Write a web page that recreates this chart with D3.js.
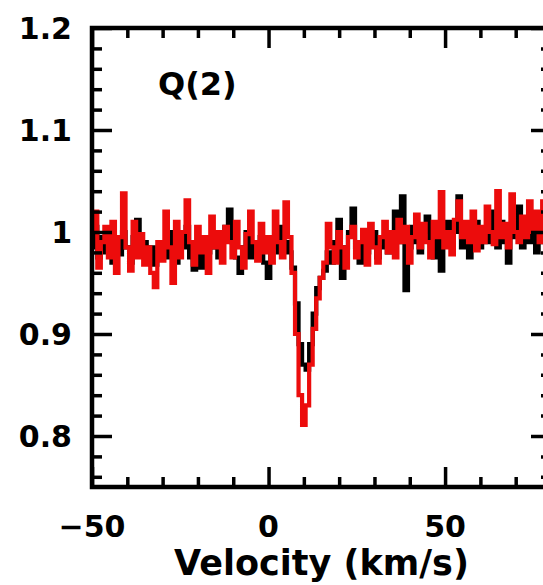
<!DOCTYPE html>
<html>
<head>
<meta charset="utf-8">
<script src="https://cdn.jsdelivr.net/npm/d3@7"></script>
<style>
  body { margin: 0; background: #fff; }
  text { font-family: "DejaVu Sans", sans-serif; font-weight: bold; fill: #000; }
</style>
</head>
<body>
<svg id="chart" width="543" height="585"></svg>
<script>
// velocity channels, 1 km/s apart, starting at -50
var vStart = -50;

// black spectrum
var blackFlux = [
  0.985, 1.005, 0.975, 0.995, 0.980, 1.000, 0.970, 0.990, 0.978, 1.000,
  0.985, 0.970, 0.995, 1.012, 0.980, 0.990, 0.975, 0.985, 0.968, 0.980,
  0.990, 0.975, 1.000, 0.985, 0.970, 0.995, 0.985, 1.005, 0.975, 0.963,
  0.980, 0.965, 0.990, 0.980, 0.995, 0.985, 0.975, 0.995, 1.005, 1.022,
  0.990, 0.975, 0.960, 0.985, 1.000, 0.975, 0.990, 0.980, 0.995, 0.970,
  0.955, 0.985, 0.995, 0.980, 1.005, 0.990, 0.980, 0.965, 0.930, 0.890,
  0.870, 0.865, 0.890, 0.920, 0.945, 0.955, 0.962, 0.980, 0.970, 0.990,
  1.012, 0.955, 0.985, 1.000, 1.023, 0.985, 0.970, 0.995, 0.980, 0.990,
  1.000, 0.975, 0.985, 0.995, 0.980, 1.000, 1.020, 0.990, 1.035, 0.943,
  0.985, 1.005, 0.990, 0.980, 1.000, 1.015, 0.990, 0.975, 1.005, 0.962,
  0.995, 1.010, 0.990, 1.000, 1.035, 0.985, 1.005, 0.975, 0.995, 1.010,
  0.985, 1.000, 0.990, 1.020, 0.995, 0.985, 1.010, 0.990, 0.970, 1.005,
  0.995, 1.025, 0.985, 1.000, 0.990, 1.015, 0.980, 1.000, 0.990, 1.010
];

// red spectrum
var redFlux = [
  1.000, 1.020, 0.965, 0.990, 1.005, 0.975, 1.010, 0.960, 0.995, 1.038,
  0.985, 0.962, 1.010, 0.975, 0.998, 0.968, 0.985, 0.960, 0.946, 0.990,
  0.972, 1.020, 0.985, 0.950, 1.010, 0.975, 1.000, 1.031, 0.990, 0.968,
  1.005, 0.980, 0.995, 0.960, 1.015, 0.985, 1.000, 0.970, 1.005, 0.990,
  0.975, 1.010, 0.985, 0.965, 0.998, 1.020, 0.990, 0.972, 1.008, 0.980,
  0.995, 0.970, 1.020, 0.990, 0.975, 1.029, 0.995, 0.960, 0.900, 0.840,
  0.811, 0.830, 0.870, 0.905, 0.935, 0.955, 0.970, 1.008, 0.985, 0.970,
  1.000, 0.985, 0.965, 0.995, 1.005, 0.975, 0.990, 1.002, 0.968, 1.008,
  0.985, 0.970, 0.995, 1.010, 0.980, 1.000, 0.975, 1.012, 0.990, 1.005,
  0.970, 0.995, 1.017, 0.985, 1.008, 0.990, 0.975, 1.010, 0.995, 1.039,
  0.985, 1.000, 0.978, 1.012, 1.030, 0.995, 1.010, 0.990, 1.020, 0.982,
  1.005, 0.990, 1.025, 1.000, 0.988, 1.040, 0.995, 1.008, 0.985, 1.037,
  1.000, 0.990, 1.015, 0.995, 1.030, 1.000, 1.020, 0.990, 1.030, 1.005
];

var xMajor = [-50, 0, 50];
var xMajorLabels = ["\u221250", "0", "50"];
var yMajor = [0.8, 0.9, 1.0, 1.1, 1.2];
var yMajorLabels = ["0.8", "0.9", "1", "1.1", "1.2"];
var lineLabel = "Q(2)";
var xTitle = "Velocity (km/s)";

var svg = d3.select("#chart");
var L = 92, R = 551, T = 28, B = 487;

var x = d3.scaleLinear().domain([-50, 80]).range([L, R]);
var y = d3.scaleLinear().domain([0.75, 1.2]).range([B, T]);

var xMinor = d3.range(-50, 81, 10).filter(function(v) { return xMajor.indexOf(v) < 0; });
var yMinor = d3.range(76, 121, 2).map(function(v) { return v / 100; })
  .filter(function(v) { return !yMajor.some(function(m) { return Math.abs(m - v) < 1e-6; }); });

svg.append("clipPath").attr("id", "plotclip")
  .append("rect").attr("x", L).attr("y", T).attr("width", R - L).attr("height", B - T);

var line = d3.line()
  .x(function(d, i) { return x(vStart + i); })
  .y(function(d) { return y(d); })
  .curve(d3.curveStep);

var gData = svg.append("g").attr("clip-path", "url(#plotclip)");
gData.append("path").datum(blackFlux)
  .attr("d", line).attr("fill", "none")
  .attr("stroke", "#000").attr("stroke-width", 4.2).attr("stroke-linejoin", "miter");
gData.append("path").datum(redFlux)
  .attr("d", line).attr("fill", "none")
  .attr("stroke", "#ec0c0c").attr("stroke-width", 4.2).attr("stroke-linejoin", "miter");

// axes: inward ticks on all four sides
function styleAxis(g) {
  g.select(".domain").remove();
  g.selectAll(".tick line").attr("stroke", "#000").attr("stroke-width", 3.5);
  g.selectAll(".tick text").remove();
}

var majorLen = 20, minorLen = 10;

svg.append("g").attr("transform", "translate(0," + B + ")")
  .call(d3.axisBottom(x).tickValues(xMajor).tickSize(-majorLen)).call(styleAxis);
svg.append("g").attr("transform", "translate(0," + B + ")")
  .call(d3.axisBottom(x).tickValues(xMinor).tickSize(-minorLen)).call(styleAxis);
svg.append("g").attr("transform", "translate(0," + T + ")")
  .call(d3.axisTop(x).tickValues(xMajor).tickSize(-majorLen)).call(styleAxis);
svg.append("g").attr("transform", "translate(0," + T + ")")
  .call(d3.axisTop(x).tickValues(xMinor).tickSize(-minorLen)).call(styleAxis);

svg.append("g").attr("transform", "translate(" + L + ",0)")
  .call(d3.axisLeft(y).tickValues(yMajor).tickSize(-majorLen)).call(styleAxis);
svg.append("g").attr("transform", "translate(" + L + ",0)")
  .call(d3.axisLeft(y).tickValues(yMinor).tickSize(-minorLen)).call(styleAxis);
svg.append("g").attr("transform", "translate(" + R + ",0)")
  .call(d3.axisRight(y).tickValues(yMajor).tickSize(-majorLen)).call(styleAxis);
svg.append("g").attr("transform", "translate(" + R + ",0)")
  .call(d3.axisRight(y).tickValues(yMinor).tickSize(-minorLen)).call(styleAxis);

// frame
svg.append("rect").attr("x", L).attr("y", T).attr("width", R - L).attr("height", B - T)
  .attr("fill", "none").attr("stroke", "#000").attr("stroke-width", 4.5);

// tick labels
svg.selectAll(".ylab").data(yMajor).enter().append("text")
  .attr("class", "ylab")
  .attr("x", 72).attr("y", function(d) { return y(d) + 11; })
  .attr("text-anchor", "end").style("font-size", "30px")
  .text(function(d, i) { return yMajorLabels[i]; });

svg.selectAll(".xlab").data(xMajor).enter().append("text")
  .attr("class", "xlab")
  .attr("x", function(d) { return x(d); }).attr("y", 537)
  .attr("text-anchor", "middle").style("font-size", "30px")
  .text(function(d, i) { return xMajorLabels[i]; });

svg.append("text").attr("x", (L + R) / 2).attr("y", 575)
  .attr("text-anchor", "middle").style("font-size", "35px")
  .text(xTitle);

svg.append("text").attr("x", 158).attr("y", 95)
  .style("font-size", "32px").text(lineLabel);
</script>
</body>
</html>
